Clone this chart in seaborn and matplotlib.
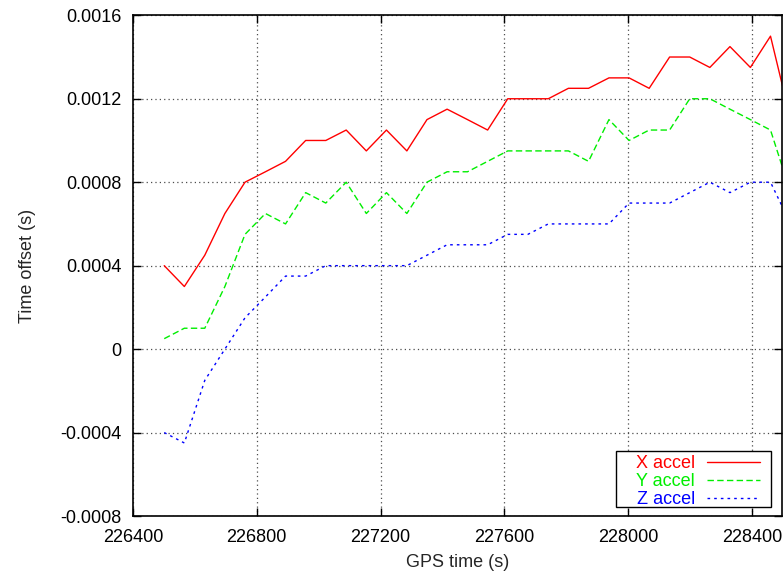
import pandas as pd
import matplotlib
matplotlib.use('Agg')
import matplotlib.pyplot as plt
import seaborn as sns
from matplotlib.patches import Rectangle

# GPS time of each sample (s)
gps_time = [226501, 226566, 226632, 226697, 226762, 226828, 226893, 226958,
            227023, 227089, 227154, 227219, 227285, 227350, 227415, 227481,
            227546, 227611, 227676, 227742, 227807, 227872, 227938, 228003,
            228068, 228134, 228199, 228264, 228329, 228395, 228460, 228525]

x_accel = [0.0004, 0.0003, 0.00045, 0.00065, 0.0008, 0.00085, 0.0009, 0.001,
           0.001, 0.00105, 0.00095, 0.00105, 0.00095, 0.0011, 0.00115, 0.0011,
           0.00105, 0.0012, 0.0012, 0.0012, 0.00125, 0.00125, 0.0013, 0.0013,
           0.00125, 0.0014, 0.0014, 0.00135, 0.00145, 0.00135, 0.0015, 0.0011]

y_accel = [0.00005, 0.0001, 0.0001, 0.0003, 0.00055, 0.00065, 0.0006, 0.00075,
           0.0007, 0.0008, 0.00065, 0.00075, 0.00065, 0.0008, 0.00085, 0.00085,
           0.0009, 0.00095, 0.00095, 0.00095, 0.00095, 0.0009, 0.0011, 0.001,
           0.00105, 0.00105, 0.0012, 0.0012, 0.00115, 0.0011, 0.00105, 0.00075]

z_accel = [-0.0004, -0.00045, -0.00015, 0.0, 0.00015, 0.00025, 0.00035, 0.00035,
           0.0004, 0.0004, 0.0004, 0.0004, 0.0004, 0.00045, 0.0005, 0.0005,
           0.0005, 0.00055, 0.00055, 0.0006, 0.0006, 0.0006, 0.0006, 0.0007,
           0.0007, 0.0007, 0.00075, 0.0008, 0.00075, 0.0008, 0.0008, 0.0006]

series_names = ['X accel', 'Y accel', 'Z accel']
x_ticks = [226400, 226800, 227200, 227600, 228000, 228400]
x_tick_labels = ['226400', '226800', '227200', '227600', '228000', '228400']
y_ticks = [-0.0008, -0.0004, 0.0, 0.0004, 0.0008, 0.0012, 0.0016]
y_tick_labels = ['-0.0008', '-0.0004', '0', '0.0004', '0.0008', '0.0012', '0.0016']


def main():
    df = pd.DataFrame({'gps': gps_time * 3,
                       'offset': x_accel + y_accel + z_accel,
                       'series': [s for s in series_names for _ in gps_time]})

    sns.set_style('ticks')
    plt.rcParams['font.family'] = ['Liberation Sans', 'DejaVu Sans']

    fig = plt.figure(figsize=(7.84, 5.77), dpi=100)
    ax = fig.add_axes([0.1696, 0.1057, 0.8274, 0.8678])

    palette = {'X accel': '#ff0000', 'Y accel': '#00ee00', 'Z accel': '#0000ff'}
    dashes = {'X accel': '', 'Y accel': (4.6, 2.4), 'Z accel': (1.9, 2.9)}
    sns.lineplot(data=df, x='gps', y='offset', hue='series', style='series',
                 palette=palette, dashes=dashes, linewidth=1.0, ax=ax,
                 estimator=None, sort=False)

    ax.set_xlim(226400, 228496)
    ax.set_ylim(-0.0008, 0.0016)
    ax.set_xticks(x_ticks)
    ax.set_xticklabels(x_tick_labels)
    ax.set_yticks(y_ticks)
    ax.set_yticklabels(y_tick_labels)
    ax.tick_params(direction='in', top=True, right=True, length=6, width=1,
                   labelsize=13, colors='black')
    ax.tick_params(axis='x', pad=9)
    ax.tick_params(axis='y', pad=8)
    ax.grid(True, linestyle=(0, (1, 2.5)), color='0.3', linewidth=0.9)
    for sp in ax.spines.values():
        sp.set_visible(True)
        sp.set_linewidth(1.2)
        sp.set_color('black')

    ax.set_xlabel('GPS time (s)', fontsize=13, labelpad=6)
    ax.set_ylabel('Time offset (s)', fontsize=13, labelpad=18)

    # gnuplot-style key: text first, sample line after, in a plain box
    leg = ax.legend(loc='lower right', bbox_to_anchor=(0.967, 0.016),
                    borderaxespad=0, markerfirst=False, frameon=False,
                    fontsize=13, handlelength=2.95, handletextpad=0.65,
                    labelspacing=0.05, borderpad=0, labelcolor='linecolor')
    leg.set_title(None)
    ax.add_patch(Rectangle((0.7446, 0.018), 0.2389, 0.1118, transform=ax.transAxes,
                           facecolor='white', edgecolor='black', linewidth=1.0,
                           zorder=4.9))
    leg.set_zorder(5)

    fig.savefig('out.png', dpi=100)
    plt.close(fig)


if __name__ == '__main__':
    main()
